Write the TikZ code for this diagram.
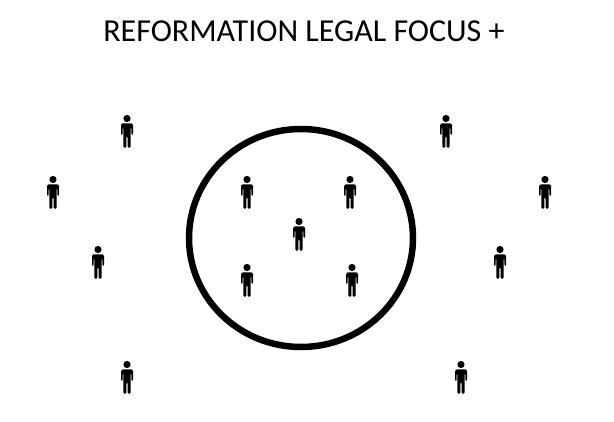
\documentclass[tikz,border=0pt]{standalone}
\usepackage{fontspec}
\setmainfont{Carlito}
\begin{document}
\begin{tikzpicture}[x=1pt,y=-1pt,
  person/.pic={
    \fill (0,-12.5) circle (3.6);
    \fill[rounded corners=1.5] (-6,4) -- (-6,-7.5) -- (6,-7.5) -- (6,4) -- (4.3,4) -- (4.3,-4) -- (3.6,-4) -- (3.6,17) -- (0.6,17) -- (0.6,5) -- (-0.6,5) -- (-0.6,17) -- (-3.6,17) -- (-3.6,-4) -- (-4.3,-4) -- (-4.3,4) -- cycle;
  }]
\useasboundingbox (0,0) rectangle (614,422);
\node[font=\fontsize{32}{36}\selectfont] (title) at (304,31) {REFORMATION LEGAL FOCUS +};
\draw[line width=6.5] (301,238) ellipse (112 and 109);
\foreach \p/\x/\y in {a/127/131,b/53/192,c/98/262,d/127/377,e/247/192,f/350/192,g/299/234,h/247/280,i/352/280,j/446/131,k/545/192,l/500/262,m/461/377}
  \pic (\p) at (\x,\y) {person};
\end{tikzpicture}
\end{document}
